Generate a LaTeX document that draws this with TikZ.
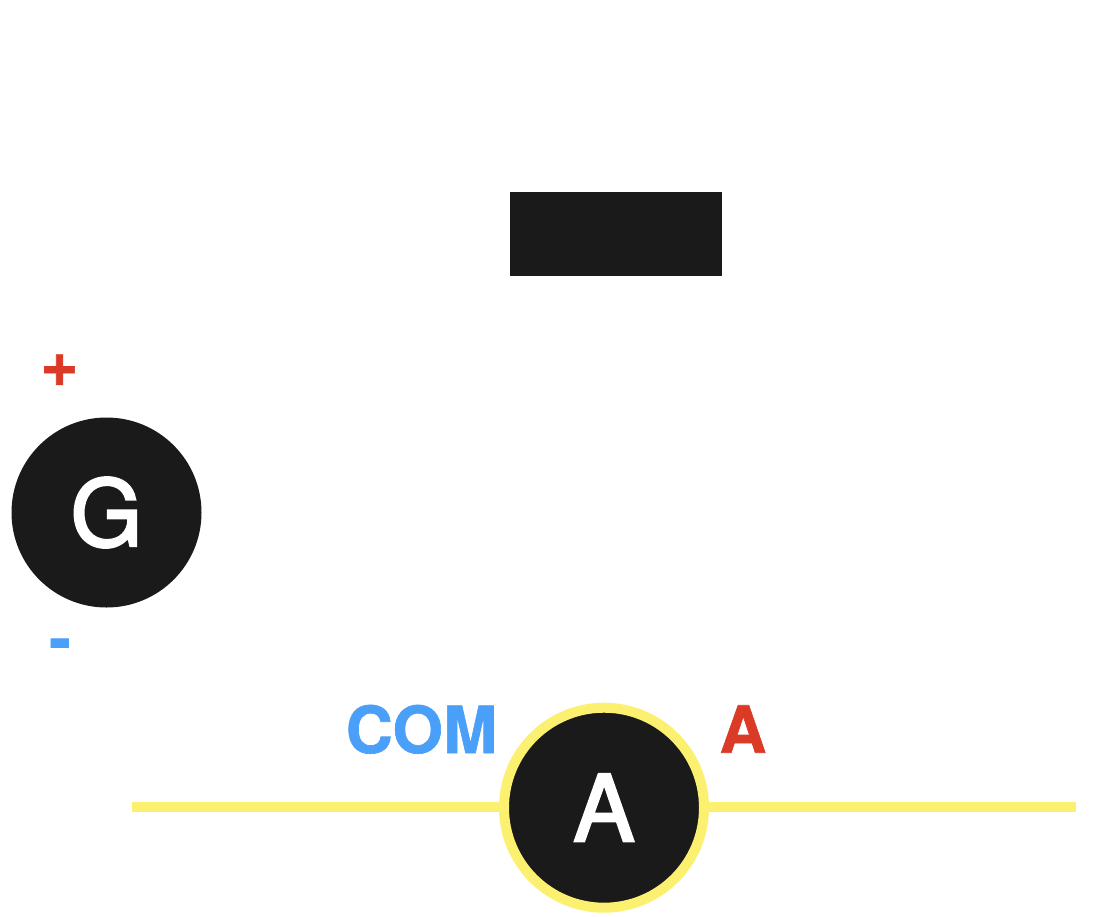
\documentclass[tikz,border=0pt]{standalone}
\usepackage{fontspec}
\setmainfont{TeX Gyre Heros}
\newfontfamily\dialfont[FakeBold=2.6]{TeX Gyre Heros}
\newfontfamily\termfont[FakeBold=1]{TeX Gyre Heros Bold}
\definecolor{ink}{HTML}{1A1A1A}
\definecolor{wire}{HTML}{FBF070}
\definecolor{pos}{HTML}{DB3B26}
\definecolor{neg}{HTML}{4A9FF8}
\tikzset{
  dial/.style={circle,fill=ink,text=white,inner sep=0pt,outer sep=0pt,font=\dialfont\fontsize{92}{92}\selectfont},
  terminal/.style={anchor=base,inner sep=0pt,outer sep=0pt,font=\termfont\fontsize{65}{65}\selectfont},
  wireline/.style={draw=wire,line width=10pt}
}
\begin{document}
\begin{tikzpicture}[x=1pt,y=-1pt]
\useasboundingbox (0,0) rectangle (1118,916);
\fill[white] (0,0) rectangle (1118,916);
\node[fill=ink,minimum width=212pt,minimum height=84pt,inner sep=0pt,outer sep=0pt] (box) at (616,234) {};
\node[dial,minimum size=190pt] (G) at (106.5,512.5) {G};
\coordinate (wl) at (131.5,806.7);
\coordinate (wr) at (1076,806.7);
\node[dial,minimum size=200pt,draw=wire,line width=10pt] (A) at (604,807.7) {A};
\draw[wireline] (wl) -- (A.west |- wl);
\draw[wireline] (A.east |- wr) -- (wr);
\node[terminal,text=pos] (plus) at (59.5,386) {+};
\node[terminal,text=neg] (minus) at (60,661) {-};
\node[terminal,text=neg] (com) at (421.5,753) {COM};
\node[terminal,text=pos] (ared) at (743,752.7) {A};
\end{tikzpicture}
\end{document}
